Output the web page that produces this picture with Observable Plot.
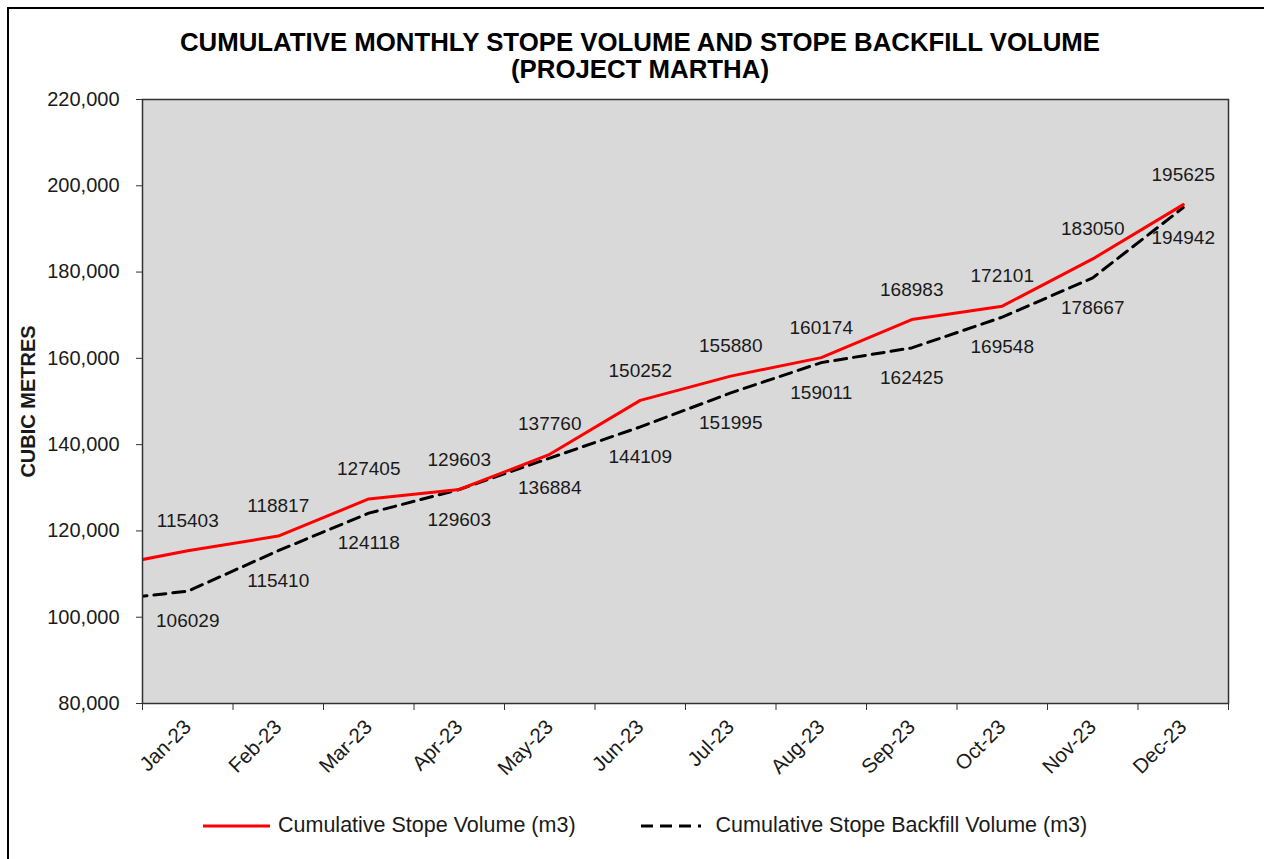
<!DOCTYPE html>
<html>
<head>
<meta charset="utf-8">
<script src="https://cdn.jsdelivr.net/npm/d3@7"></script>
<script src="https://cdn.jsdelivr.net/npm/@observablehq/plot@0.6"></script>
<style>
  html, body { margin: 0; padding: 0; background: #fff; }
  #wrap { position: relative; width: 1264px; height: 859px; overflow: hidden; font-family: "Liberation Sans", Arial, sans-serif; color: #1a1a1a; }
  #border { position: absolute; left: 7px; top: 7px; width: 1400px; height: 1000px; border-left: 2px solid #000; border-top: 2px solid #000; }
  #title { position: absolute; left: 8px; top: 29px; width: 1264px; text-align: center; font-weight: bold; font-size: 25.8px; line-height: 27px; color: #000; z-index: 1; }
  #chart { position: absolute; left: 0; top: 70px; }
  #legend { position: absolute; left: 203px; top: 813px; display: flex; align-items: center; font-size: 21.5px; color: #1a1a1a; }
  #legend .item { display: flex; align-items: center; }
  #legend svg { display: block; }
</style>
</head>
<body>
<div id="wrap">
  <div id="border"></div>
  <div id="title">CUMULATIVE MONTHLY STOPE VOLUME AND STOPE BACKFILL VOLUME<br>(PROJECT MARTHA)</div>
  <div id="chart"></div>
  <div id="legend"></div>
</div>
<script>
// ---- Data ----
const months = ["Jan-23","Feb-23","Mar-23","Apr-23","May-23","Jun-23","Jul-23","Aug-23","Sep-23","Oct-23","Nov-23","Dec-23"];
const stopeVolume = [115403,118817,127405,129603,137760,150252,155880,160174,168983,172101,183050,195625];
const backfillVolume = [106029,115410,124118,129603,136884,144109,151995,159011,162425,169548,178667,194942];
// estimated prior-month (Dec-22) values; the line runs in from the left edge of the plot
const priorStopeVolume = 111350;
const priorBackfillVolume = 103700;
const yTicks = [80000,100000,120000,140000,160000,180000,200000,220000];
const seriesNames = ["Cumulative Stope Volume (m3)", "Cumulative Stope Backfill Volume (m3)"];

// ---- Build tables ----
const stopeRows = [{i: -1, v: priorStopeVolume}].concat(stopeVolume.map((v, i) => ({i, v})));
const backfillRows = [{i: -1, v: priorBackfillVolume}].concat(backfillVolume.map((v, i) => ({i, v})));
const stopeLabels = stopeRows.filter(d => d.i >= 0);
const backfillLabels = backfillRows.filter(d => d.i >= 0);
const boundaries = months.map((_, i) => i - 0.5).concat([months.length - 0.5]);
const centers = months.map((_, i) => i);

const plot = Plot.plot({
  width: 1264,
  height: 713,
  marginLeft: 142,
  marginRight: 36,
  marginTop: 29,
  marginBottom: 80,
  style: { fontFamily: '"Liberation Sans", Arial, sans-serif', color: "#1a1a1a", background: "transparent" },
  x: { type: "linear", domain: [boundaries[0], boundaries[boundaries.length - 1]] },
  y: { domain: [yTicks[0], yTicks[yTicks.length - 1]] },
  marks: [
    Plot.frame({ fill: "#d9d9d9" }),
    Plot.line(backfillRows, { x: "i", y: "v", stroke: "#000", strokeWidth: 3, strokeDasharray: "12,7", clip: true }),
    Plot.line(stopeRows, { x: "i", y: "v", stroke: "#ff0000", strokeWidth: 3, clip: true }),
    Plot.text(stopeLabels, { x: "i", y: "v", text: d => String(d.v), dy: -30, fontSize: 19, fill: "#1a1a1a" }),
    Plot.text(backfillLabels, { x: "i", y: "v", text: d => String(d.v), dy: 30, fontSize: 19, fill: "#1a1a1a" }),
    Plot.frame({ stroke: "#333", strokeWidth: 1.5 }),
    Plot.axisY({ ticks: yTicks, tickFormat: d3.format(","), tickSize: 6, tickPadding: 17, fontSize: 20, label: null, stroke: "#333" }),
    Plot.axisX({ ticks: boundaries, tickFormat: () => "", tickSize: 7, label: null, stroke: "#333" }),
    Plot.axisX({ ticks: centers, tickFormat: i => months[i], tickSize: 0, tickPadding: 20, tickRotate: -45, fontSize: 20.5, label: null }),
    Plot.text(["CUBIC METRES"], { frameAnchor: "left", textAnchor: "middle", dx: -114, rotate: -90, fontWeight: "bold", fontSize: 20, fill: "#1a1a1a" })
  ]
});
document.getElementById("chart").appendChild(plot);

// ---- Legend ----
const legend = d3.select("#legend");
const styles = [
  { stroke: "#ff0000", dash: null, w: 67, gapAfter: 8 },
  { stroke: "#000", dash: "12,7", w: 60, gapAfter: 15 }
];
seriesNames.forEach((name, k) => {
  const s = styles[k];
  const item = legend.append("div").attr("class", "item").style("margin-left", k === 0 ? "0px" : "65px");
  const sv = item.append("svg").attr("width", s.w).attr("height", 10);
  sv.append("line").attr("x1", 0).attr("x2", s.w).attr("y1", 5).attr("y2", 5)
    .attr("stroke", s.stroke).attr("stroke-width", 3).attr("stroke-dasharray", s.dash);
  item.append("span").style("margin-left", s.gapAfter + "px").text(name);
});
</script>
</body>
</html>
